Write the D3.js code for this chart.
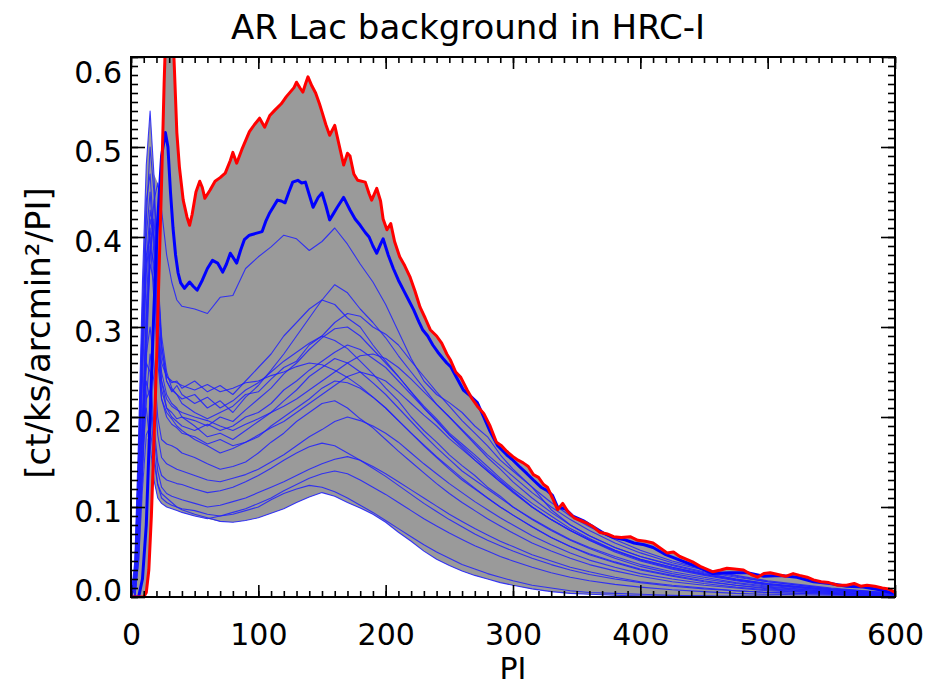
<!DOCTYPE html>
<html><head><meta charset="utf-8">
<script src="https://cdn.jsdelivr.net/npm/d3@7"></script>
<style>body{margin:0;background:#fff}svg{display:block}</style>
</head><body><svg id="c" width="928" height="690"></svg>
<script>
const title = "AR Lac background in HRC-I";
const xLabel = "PI";
const yLabel = "[ct/ks/arcmin²/PI]";
const xTicks = [0,100,200,300,400,500,600];
const yTicks = [0,0.1,0.2,0.3,0.4,0.5,0.6];

// red curve
const redPI = [0,10,12,14,16,18,20,22,24,26,28,30,32,34,36,38,41,44,46,48,51,54,56,58,62,66,70,74,78,80,83,87,93,97,101,105,109,113,118,122,125,128,130,133,135,137,139,142,145,148,150,153,156,160,163,167,170,172,175,178,184,187,189,193,196,198,201,204,207,211,215,219,223,227,231,235,240,244,248,251,255,259,264,268,272,277,282,287,291,295,300,304,308,312,316,320,324,327,331,335,339,343,348,353,358,363,368,374,379,385,392,398,404,410,415,421,426,431,436,441,447,452,457,463,468,474,481,487,492,497,502,508,514,520,525,531,536,542,548,555,562,568,573,578,584,590,595,600];
const redVal = [0,0,0.005,0.03,0.09,0.17,0.26,0.36,0.46,0.57,0.66,0.7,0.66,0.59,0.516,0.478,0.441,0.422,0.413,0.425,0.45,0.462,0.455,0.443,0.452,0.462,0.466,0.471,0.485,0.494,0.482,0.497,0.517,0.525,0.532,0.522,0.535,0.541,0.548,0.556,0.561,0.566,0.572,0.565,0.561,0.57,0.578,0.568,0.56,0.548,0.539,0.525,0.513,0.524,0.505,0.48,0.493,0.49,0.47,0.463,0.461,0.448,0.441,0.454,0.44,0.42,0.408,0.415,0.395,0.378,0.368,0.356,0.34,0.322,0.31,0.297,0.29,0.282,0.27,0.263,0.25,0.244,0.23,0.22,0.212,0.204,0.19,0.172,0.168,0.162,0.156,0.152,0.149,0.145,0.136,0.133,0.125,0.122,0.11,0.097,0.104,0.095,0.088,0.085,0.082,0.078,0.072,0.07,0.067,0.066,0.067,0.063,0.062,0.06,0.055,0.049,0.05,0.045,0.042,0.039,0.034,0.031,0.028,0.03,0.032,0.031,0.03,0.025,0.022,0.026,0.027,0.025,0.023,0.026,0.024,0.022,0.019,0.017,0.016,0.013,0.013,0.015,0.012,0.013,0.012,0.01,0.009,0.005];

// thick blue curve
const thickPI = [0,6,9,12,15,18,21,24,27,29,31,33,35,37,39,42,46,49,52,56,60,64,68,72,75,78,83,86,89,93,98,103,106,109,115,118,121,124,127,131,134,137,140,143,147,150,153,156,159,162,167,172,176,180,184,187,190,193,196,198,202,206,210,214,218,222,226,229,233,237,241,245,248,251,256,261,266,272,277,282,288,295,300,305,311,316,322,327,331,335,341,347,355,363,371,379,387,395,403,410,420,431,444,457,470,484,497,510,523,536,549,562,575,588,599];
const thickVal = [0,0,0.02,0.08,0.2,0.32,0.42,0.49,0.516,0.5,0.45,0.41,0.38,0.36,0.349,0.343,0.35,0.345,0.341,0.352,0.365,0.374,0.371,0.361,0.37,0.382,0.371,0.385,0.397,0.402,0.404,0.406,0.418,0.427,0.441,0.44,0.438,0.45,0.461,0.463,0.46,0.461,0.447,0.433,0.444,0.449,0.435,0.419,0.426,0.433,0.444,0.43,0.42,0.413,0.405,0.4,0.39,0.382,0.392,0.398,0.38,0.365,0.352,0.341,0.33,0.319,0.306,0.297,0.29,0.28,0.272,0.265,0.26,0.256,0.243,0.23,0.224,0.216,0.2,0.184,0.168,0.158,0.152,0.145,0.137,0.13,0.122,0.118,0.113,0.1,0.098,0.09,0.085,0.078,0.071,0.066,0.064,0.06,0.058,0.055,0.047,0.041,0.034,0.026,0.027,0.027,0.023,0.024,0.022,0.017,0.015,0.012,0.011,0.008,0.004];

// thin blue curves, shared PI grid
const thinPI = [0,3,6,9,12,15,18,21,24,28,32,36,40,50,60,70,80,90,100,110,120,130,140,150,160,170,180,190,200,210,220,230,240,250,260,270,280,290,300,315,330,345,360,380,400,425,450,475,500,550,600];
const thinT0 = [0,0,0.04,0.14,0.26,0.38,0.44,0.46,0.43,0.38,0.35,0.33,0.323, 0.32,0.315,0.333,0.335,0.365,0.378,0.389,0.402,0.398,0.385, 0.395,0.41,0.392,0.37,0.35,0.325,0.295,0.265,0.24,0.225, 0.216,0.205,0.19,0.178,0.158,0.142, 0.122,0.097,0.08,0.068, 0.055,0.045, 0.036,0.028,0.022,0.017, 0.009,0.004];
const thinU1 = [0,0.01,0.08,0.2,0.32,0.42,0.4,0.33,0.27,0.24,0.23,0.225,0.22, 0.225,0.21,0.218,0.205,0.222,0.235,0.252,0.27,0.29,0.31, 0.33,0.347,0.338,0.32,0.305,0.288,0.268,0.25,0.232,0.214, 0.2,0.185,0.17,0.155,0.142,0.128, 0.11,0.094,0.08,0.068, 0.055,0.045, 0.035,0.027,0.02,0.015, 0.008,0.003];
const thinU2 = [0,0.02,0.12,0.28,0.42,0.5,0.45,0.35,0.28,0.245,0.238,0.24,0.232, 0.24,0.228,0.235,0.225,0.24,0.255,0.27,0.29,0.305,0.32, 0.33,0.325,0.31,0.3,0.28,0.262,0.245,0.228,0.21,0.196, 0.18,0.168,0.155,0.142,0.13,0.118, 0.1,0.086,0.074,0.063, 0.05,0.04, 0.031,0.024,0.018,0.013, 0.007,0.003];
const thinU3 = [0,0,0.05,0.15,0.28,0.38,0.42,0.36,0.29,0.25,0.232,0.225,0.215, 0.205,0.198,0.205,0.212,0.225,0.228,0.242,0.255,0.262,0.28, 0.29,0.305,0.315,0.312,0.3,0.292,0.28,0.262,0.245,0.228, 0.212,0.196,0.182,0.168,0.152,0.14, 0.122,0.105,0.09,0.078, 0.064,0.052, 0.04,0.031,0.024,0.018, 0.01,0.004];
const thinU4 = [0,0.03,0.15,0.3,0.4,0.45,0.38,0.3,0.25,0.225,0.215,0.21,0.2, 0.196,0.19,0.2,0.195,0.208,0.22,0.232,0.248,0.26,0.275, 0.288,0.298,0.3,0.29,0.275,0.26,0.245,0.228,0.212,0.198, 0.182,0.17,0.158,0.145,0.132,0.12, 0.104,0.09,0.076,0.065, 0.052,0.042, 0.033,0.025,0.019,0.014, 0.008,0.003];
const thinU5 = [0,0.04,0.18,0.35,0.48,0.54,0.47,0.36,0.28,0.24,0.228,0.235,0.225, 0.215,0.222,0.21,0.218,0.23,0.238,0.25,0.262,0.272,0.282, 0.29,0.285,0.276,0.262,0.248,0.232,0.218,0.2,0.185,0.172, 0.158,0.146,0.135,0.122,0.112,0.1, 0.086,0.074,0.063,0.054, 0.043,0.034, 0.026,0.02,0.015,0.011, 0.006,0.002];
const thinU6 = [0,0.01,0.1,0.24,0.36,0.41,0.36,0.28,0.23,0.21,0.2,0.195,0.19, 0.185,0.192,0.185,0.19,0.2,0.205,0.215,0.23,0.24,0.252, 0.262,0.272,0.28,0.275,0.265,0.255,0.24,0.225,0.21,0.195, 0.18,0.166,0.152,0.14,0.128,0.116, 0.1,0.086,0.074,0.063, 0.051,0.041, 0.032,0.025,0.019,0.014, 0.007,0.003];
const thinU7 = [0,0.02,0.12,0.26,0.37,0.43,0.4,0.3,0.24,0.21,0.205,0.198,0.2, 0.19,0.178,0.182,0.175,0.185,0.195,0.205,0.218,0.23,0.245, 0.255,0.265,0.26,0.25,0.238,0.225,0.21,0.195,0.18,0.166, 0.153,0.14,0.13,0.12,0.11,0.1, 0.087,0.075,0.064,0.055, 0.045,0.036, 0.028,0.022,0.016,0.012, 0.006,0.002];
const thinU8 = [0,0,0.06,0.18,0.3,0.37,0.35,0.28,0.22,0.2,0.192,0.188,0.182, 0.178,0.17,0.175,0.168,0.172,0.18,0.188,0.195,0.205,0.215, 0.225,0.235,0.245,0.25,0.246,0.24,0.228,0.215,0.202,0.19, 0.176,0.164,0.152,0.14,0.128,0.117, 0.1,0.086,0.074,0.064, 0.052,0.042, 0.033,0.026,0.02,0.015, 0.008,0.003];
const thinU9 = [0,0.03,0.14,0.28,0.38,0.4,0.33,0.26,0.22,0.205,0.198,0.19,0.185, 0.175,0.168,0.16,0.165,0.172,0.178,0.19,0.2,0.21,0.22, 0.232,0.24,0.238,0.232,0.222,0.21,0.196,0.182,0.168,0.155, 0.142,0.13,0.12,0.11,0.1,0.091, 0.078,0.066,0.056,0.048, 0.039,0.031, 0.024,0.018,0.013,0.01, 0.005,0.002];
const thinU10 = [0,0,0.07,0.19,0.31,0.39,0.37,0.29,0.24,0.22,0.212,0.208,0.205, 0.2,0.196,0.19,0.185,0.192,0.198,0.205,0.212,0.22,0.23, 0.24,0.25,0.26,0.268,0.27,0.265,0.255,0.242,0.228,0.214, 0.2,0.186,0.172,0.158,0.146,0.134, 0.116,0.1,0.086,0.074, 0.06,0.049, 0.038,0.03,0.023,0.017, 0.009,0.004];
const thinU11 = [0,0.03,0.16,0.32,0.44,0.47,0.4,0.31,0.26,0.245,0.24,0.238,0.235, 0.23,0.236,0.228,0.232,0.238,0.24,0.246,0.25,0.256,0.26, 0.258,0.252,0.244,0.234,0.222,0.21,0.196,0.182,0.169,0.156, 0.144,0.132,0.121,0.11,0.1,0.091, 0.078,0.066,0.056,0.047, 0.038,0.03, 0.023,0.017,0.013,0.009, 0.005,0.002];
const thinL1 = [0,0.01,0.08,0.18,0.27,0.3,0.26,0.2,0.175,0.17,0.168,0.165,0.16, 0.155,0.148,0.142,0.145,0.15,0.16,0.172,0.182,0.195,0.205, 0.215,0.218,0.21,0.198,0.188,0.175,0.162,0.15,0.138,0.126, 0.115,0.105,0.096,0.087,0.079,0.071, 0.06,0.051,0.043,0.036, 0.029,0.023, 0.017,0.013,0.01,0.007, 0.004,0.001];
const thinL2 = [0,0,0.05,0.14,0.22,0.27,0.24,0.18,0.155,0.148,0.145,0.142,0.14, 0.135,0.13,0.128,0.132,0.136,0.142,0.15,0.158,0.168,0.178, 0.186,0.195,0.2,0.196,0.19,0.182,0.172,0.16,0.148,0.137, 0.126,0.116,0.106,0.097,0.088,0.08, 0.068,0.058,0.049,0.041, 0.033,0.026, 0.02,0.015,0.011,0.008, 0.004,0.001];
const thinL3 = [0,0.02,0.1,0.2,0.26,0.25,0.19,0.15,0.135,0.13,0.128,0.126,0.125, 0.12,0.116,0.118,0.122,0.128,0.135,0.143,0.152,0.16,0.167, 0.171,0.168,0.16,0.152,0.143,0.134,0.124,0.114,0.104,0.095, 0.086,0.078,0.07,0.063,0.057,0.051, 0.043,0.036,0.03,0.025, 0.02,0.016, 0.012,0.009,0.007,0.005, 0.003,0.001];
const thinL4 = [0,0,0.06,0.15,0.22,0.23,0.18,0.14,0.122,0.115,0.112,0.11,0.108, 0.104,0.1,0.102,0.106,0.11,0.116,0.122,0.128,0.135,0.142, 0.148,0.153,0.156,0.152,0.145,0.137,0.128,0.119,0.11,0.101, 0.092,0.084,0.076,0.069,0.062,0.056, 0.047,0.04,0.033,0.028, 0.022,0.017, 0.013,0.01,0.007,0.005, 0.003,0.001];
const thinL5 = [0,0.01,0.09,0.18,0.24,0.22,0.16,0.125,0.11,0.105,0.102,0.1,0.098, 0.096,0.092,0.09,0.094,0.098,0.104,0.11,0.118,0.125,0.132, 0.137,0.14,0.137,0.13,0.122,0.114,0.105,0.096,0.087,0.079, 0.071,0.064,0.057,0.051,0.045,0.04, 0.033,0.027,0.022,0.018, 0.014,0.011, 0.008,0.006,0.004,0.003, 0.002,0.001];
const thinL6 = [0,0,0.04,0.12,0.18,0.19,0.15,0.125,0.115,0.11,0.105,0.1,0.097, 0.092,0.088,0.084,0.083,0.085,0.088,0.093,0.098,0.105,0.111, 0.116,0.112,0.105,0.099,0.092,0.083,0.072,0.062,0.051,0.042, 0.035,0.029,0.024,0.02,0.016,0.013, 0.009,0.006,0.004,0.003, 0.002,0.001, 0.001,0.001,0,0, 0,0];
const thinL7 = [0,0.02,0.11,0.2,0.21,0.17,0.13,0.11,0.104,0.1,0.098,0.096,0.094, 0.09,0.087,0.09,0.092,0.096,0.1,0.108,0.115,0.12,0.124, 0.122,0.117,0.11,0.102,0.094,0.085,0.076,0.067,0.058,0.05, 0.043,0.036,0.031,0.026,0.022,0.018, 0.013,0.01,0.007,0.005, 0.004,0.003, 0.002,0.001,0.001,0.001, 0,0];
const thinSeries = [thinT0,thinU1,thinU2,thinU3,thinU4,thinU5,thinU6,thinU7,thinU8,thinU9,thinU10,thinU11,thinL1,thinL2,thinL3,thinL4,thinL5,thinL6,thinL7];

const W = 928, H = 690;
const M = {left:131, right:33, top:57, bottom:93};
const svg = d3.select("#c");
const x = d3.scaleLinear().domain([0,600]).range([M.left, W-M.right]);
const y = d3.scaleLinear().domain([0,0.6]).range([H-M.bottom, M.top]);

svg.append("defs").append("clipPath").attr("id","plotclip")
  .append("rect").attr("x",M.left).attr("y",M.top)
  .attr("width",W-M.left-M.right).attr("height",H-M.top-M.bottom);
const plot = svg.append("g").attr("clip-path","url(#plotclip)");

const thinMin = thinPI.map((p,i)=>d3.min(thinSeries, s=>s[i]));
const thinMax = thinPI.map((p,i)=>d3.max(thinSeries, s=>s[i]));
const GRAY = "#9a9a9a";
plot.append("path")
  .attr("d", d3.area().x((d,i)=>x(thinPI[i])).y0((d,i)=>y(thinMin[i])).y1((d,i)=>y(thinMax[i]))(thinPI))
  .attr("fill", GRAY);
const poly = redPI.map((p,i)=>[x(p), y(redVal[i])])
  .concat(thinPI.map((p,i)=>[x(p), y(thinMin[i])]).reverse());
plot.append("path").attr("d", d3.line()(poly)+"Z").attr("fill", GRAY);

const thinLine = d3.line().x((d,i)=>x(thinPI[i])).y(d=>y(d));
plot.selectAll("path.thin").data(thinSeries).join("path")
  .attr("class","thin").attr("d", thinLine)
  .attr("fill","none").attr("stroke","#1f1fff").attr("stroke-width",1.1)
  .attr("stroke-opacity",0.85).attr("stroke-linejoin","round");

plot.append("path")
  .attr("d", d3.line().x((d,i)=>x(thickPI[i])).y(d=>y(d))(thickVal))
  .attr("fill","none").attr("stroke","#0000ff").attr("stroke-width",3)
  .attr("stroke-linejoin","round");
plot.append("path")
  .attr("d", d3.line().x((d,i)=>x(redPI[i])).y(d=>y(d))(redVal))
  .attr("fill","none").attr("stroke","#ff0000").attr("stroke-width",3)
  .attr("stroke-linejoin","round");

// axes
const FONT = "DejaVu Sans, sans-serif";
const xMinor = d3.range(0,601,10);
const yMinor = d3.range(0,61,1).map(v=>v/100);
function styleAxis(g){
  g.select(".domain").remove();
  g.selectAll("line").attr("stroke","#000").attr("stroke-width",1.6);
  g.selectAll("text").attr("fill","#000").style("font-family",FONT).style("font-size","30px");
}
const yb = y(0), yt = y(0.6), xl = x(0), xr = x(600);
svg.append("g").attr("transform",`translate(0,${yb})`)
  .call(d3.axisBottom(x).tickValues(xMinor).tickSize(-6).tickFormat("")).call(styleAxis);
svg.append("g").attr("transform",`translate(0,${yb})`)
  .call(d3.axisBottom(x).tickValues(xTicks).tickSize(-12).tickPadding(27).tickFormat(d3.format("d"))).call(styleAxis);
svg.append("g").attr("transform",`translate(0,${yt})`)
  .call(d3.axisTop(x).tickValues(xMinor).tickSize(-6).tickFormat("")).call(styleAxis);
svg.append("g").attr("transform",`translate(0,${yt})`)
  .call(d3.axisTop(x).tickValues(xTicks).tickSize(-12).tickFormat("")).call(styleAxis);
svg.append("g").attr("transform",`translate(${xl},0)`)
  .call(d3.axisLeft(y).tickValues(yMinor).tickSize(-7).tickFormat("")).call(styleAxis);
const yAx = svg.append("g").attr("transform",`translate(${xl},0)`)
  .call(d3.axisLeft(y).tickValues(yTicks).tickSize(-14).tickPadding(9).tickFormat(d3.format(".1f"))).call(styleAxis);
yAx.selectAll("text").attr("dy", d => d===0 ? "0.1em" : (d===0.6 ? "0.86em" : "0.47em"));
svg.append("g").attr("transform",`translate(${xr},0)`)
  .call(d3.axisRight(y).tickValues(yMinor).tickSize(-7).tickFormat("")).call(styleAxis);
svg.append("g").attr("transform",`translate(${xr},0)`)
  .call(d3.axisRight(y).tickValues(yTicks).tickSize(-14).tickFormat("")).call(styleAxis);

svg.append("rect").attr("x",xl).attr("y",yt).attr("width",xr-xl).attr("height",yb-yt)
  .attr("fill","none").attr("stroke","#000").attr("stroke-width",2);

svg.append("text").attr("x",(xl+xr)/2-45).attr("y",39).attr("text-anchor","middle")
  .style("font-family",FONT).style("font-size","34px").attr("fill","#000").text(title);
svg.append("text").attr("x",(xl+xr)/2).attr("y",679).attr("text-anchor","middle")
  .style("font-family",FONT).style("font-size","30px").attr("fill","#000").text(xLabel);
svg.append("text").attr("transform","translate(50,333) rotate(-90)").attr("text-anchor","middle")
  .style("font-family",FONT).style("font-size","34px").attr("fill","#000").text(yLabel);
</script></body></html>
